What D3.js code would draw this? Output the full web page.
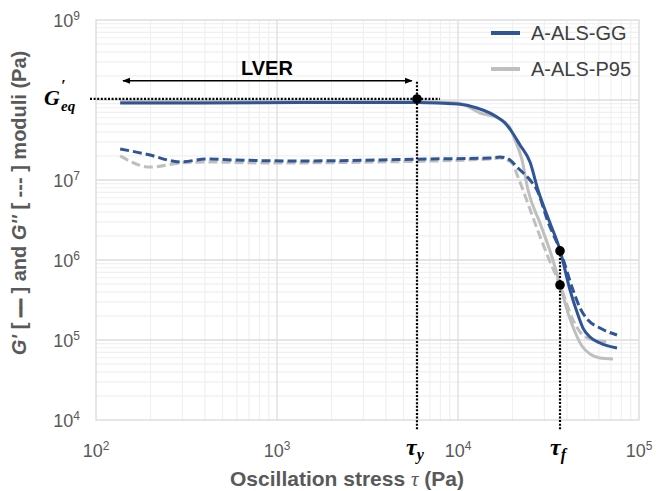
<!DOCTYPE html>
<html>
<head>
<meta charset="utf-8">
<script src="https://cdn.jsdelivr.net/npm/d3@7"></script>
<style>
  body { margin: 0; background: #fff; }
</style>
</head>
<body>
<div id="chart"></div>
<script>
/* data (Pa) */
var ggStorageX = [136, 375, 1340, 5935, 10000, 12735, 16430, 18180, 19880, 22000, 24990, 27670, 32240, 36610, 41570, 46030, 49050, 53620, 60870, 75600];
var ggStorageY = [9.17e7, 9.17e7, 9.31e7, 9.31e7, 8.91e7, 7.94e7, 6.13e7, 5.16e7, 3.98e7, 2.74e7, 1.68e7, 7.5e6, 2.9e6, 1.33e6, 4.22e5, 2.05e5, 1.41e5, 1.09e5, 9.17e4, 7.94e4];
var ggLossX = [136, 199, 263, 291, 411, 571, 1340, 3707, 6741, 15030, 17060, 19380, 21180, 24990, 27320, 31430, 36610, 43190, 47210, 52280, 60870, 75600];
var ggLossY = [2.44e7, 2.05e7, 1.73e7, 1.68e7, 1.83e7, 1.78e7, 1.73e7, 1.78e7, 1.83e7, 1.88e7, 1.94e7, 1.78e7, 1.45e7, 1.0e7, 7.5e6, 2.99e6, 1.33e6, 4.22e5, 2.51e5, 1.78e5, 1.41e5, 1.155e5];
var p95StorageX = [136, 5935, 10000, 13230, 17060, 19380, 20650, 22570, 24360, 28380, 33060, 36610, 40530, 44300, 48400, 53620, 60870, 71850];
var p95StorageY = [9.58e7, 9.58e7, 9.17e7, 6.88e7, 5.79e7, 4.47e7, 3.16e7, 1.78e7, 7.5e6, 2.9e6, 1.09e6, 4.87e5, 2.18e5, 1.26e5, 8.41e4, 6.68e4, 5.96e4, 5.79e4];
var p95LossX = [136, 199, 291, 411, 880, 3707, 15030, 17060, 19880, 21450, 22860, 26630, 31430, 36610, 43190, 47210, 53620, 60870, 69150];
var p95LossY = [2.0e7, 1.45e7, 1.63e7, 1.68e7, 1.63e7, 1.68e7, 1.83e7, 1.88e7, 1.63e7, 1.09e7, 7.5e6, 2.9e6, 1.09e6, 4.87e5, 1.78e5, 1.26e5, 1.03e5, 9.72e4, 9.44e4];

var seriesNames = ["A-ALS-GG", "A-ALS-P95"];
var xTickExps = [2, 3, 4, 5];
var yTickExps = [4, 5, 6, 7, 9];   // 10^8 is replaced by G'eq

var tauY = 5935, tauF = 36610, gEq = 1.03e8;
var crossGG = 1.30e6, crossP95 = 4.87e5;
var lverFrom = 141, lverTo = 5560, lverLevel = 1.74e8;

/* sizes */
var width = 656, height = 491;
var margin = { top: 20, left: 96, right: 17, bottom: 71 };
var blue = "#2F5597", grey = "#BFBFBF", labelColor = "#595959";
var sans = "'Liberation Sans', Arial, sans-serif",
    serif = "'Liberation Serif', 'DejaVu Serif', serif";

var svg = d3.select("#chart").append("svg")
    .attr("width", width)
    .attr("height", height);

var x = d3.scaleLog().domain([1e2, 1e5]).range([margin.left, width - margin.right]);
var y = d3.scaleLog().domain([1e4, 1e9]).range([height - margin.bottom, margin.top]);

/* gridlines */
var minorX = [], minorY = [];
for (var e = 2; e < 5; e++) for (var k = 2; k < 10; k++) minorX.push(k * Math.pow(10, e));
for (var e2 = 4; e2 < 9; e2++) for (var k2 = 2; k2 < 10; k2++) minorY.push(k2 * Math.pow(10, e2));

var grid = svg.append("g").attr("class", "grid");
grid.selectAll(".mx").data(minorX).enter().append("line")
    .attr("x1", d => x(d)).attr("x2", d => x(d))
    .attr("y1", margin.top).attr("y2", height - margin.bottom)
    .attr("stroke", "#F0F0F0").attr("stroke-width", 1.2);
grid.selectAll(".my").data(minorY).enter().append("line")
    .attr("y1", d => y(d)).attr("y2", d => y(d))
    .attr("x1", margin.left).attr("x2", width - margin.right)
    .attr("stroke", "#F0F0F0").attr("stroke-width", 1.2);
grid.selectAll(".Mx").data([1e3, 1e4]).enter().append("line")
    .attr("x1", d => x(d)).attr("x2", d => x(d))
    .attr("y1", margin.top).attr("y2", height - margin.bottom)
    .attr("stroke", "#DDDDDD").attr("stroke-width", 1.3);
grid.selectAll(".My").data([1e5, 1e6, 1e7, 1e8]).enter().append("line")
    .attr("y1", d => y(d)).attr("y2", d => y(d))
    .attr("x1", margin.left).attr("x2", width - margin.right)
    .attr("stroke", "#DDDDDD").attr("stroke-width", 1.3);
svg.append("rect")
    .attr("x", margin.left).attr("y", margin.top)
    .attr("width", width - margin.left - margin.right)
    .attr("height", height - margin.top - margin.bottom)
    .attr("fill", "none").attr("stroke", "#D9D9D9").attr("stroke-width", 1.3);

/* tick labels (10 with superscript) */
svg.selectAll(".xt").data(xTickExps).enter().append("text")
    .attr("x", d => x(Math.pow(10, d)))
    .attr("y", 457)
    .attr("text-anchor", "middle")
    .attr("font-family", sans).attr("font-size", 18).attr("fill", labelColor)
    .each(function(d) {
        d3.select(this).append("tspan").text("10");
        d3.select(this).append("tspan").attr("dy", -7).attr("font-size", 12).text(d);
    });
svg.selectAll(".yt").data(yTickExps).enter().append("text")
    .attr("x", 80)
    .attr("y", d => y(Math.pow(10, d)) + 7)
    .attr("text-anchor", "end")
    .attr("font-family", sans).attr("font-size", 18).attr("fill", labelColor)
    .each(function(d) {
        d3.select(this).append("tspan").text("10");
        d3.select(this).append("tspan").attr("dy", -7).attr("font-size", 12).text(d);
    });

/* axis titles */
svg.append("text")
    .attr("x", 347).attr("y", 486)
    .attr("text-anchor", "middle")
    .attr("font-family", sans).attr("font-size", 21).attr("font-weight", "bold").attr("fill", labelColor)
    .each(function() {
        var t = d3.select(this);
        t.append("tspan").text("Oscillation stress ");
        t.append("tspan").attr("font-family", serif).attr("font-style", "italic").attr("font-weight", "normal").text("τ");
        t.append("tspan").text(" (Pa)");
    });

svg.append("text")
    .attr("transform", "translate(26," + 203 + ") rotate(-90)")
    .attr("text-anchor", "middle")
    .attr("font-family", sans).attr("font-size", 20).attr("font-weight", "bold").attr("fill", labelColor)
    .each(function() {
        var t = d3.select(this);
        t.append("tspan").attr("font-style", "italic").text("G'");
        t.append("tspan").text(" [ ");
        t.append("tspan").attr("font-size", 15).text("━━");
        t.append("tspan").text(" ] and ");
        t.append("tspan").attr("font-style", "italic").text("G''");
        t.append("tspan").text(" [ ‐‐‐ ] moduli (Pa)");
    });

/* curves */
var line = d3.line()
    .x(d => x(d[0]))
    .y(d => y(d[1]))
    .curve(d3.curveMonotoneX);

function pairs(xs, ys) { return xs.map((v, i) => [v, ys[i]]); }

var curves = [
    { xs: p95LossX, ys: p95LossY, color: grey, dash: "9,4" },
    { xs: p95StorageX, ys: p95StorageY, color: grey, dash: null },
    { xs: ggLossX, ys: ggLossY, color: blue, dash: "9,4" },
    { xs: ggStorageX, ys: ggStorageY, color: blue, dash: null }
];

svg.selectAll(".curve").data(curves).enter().append("path")
    .attr("class", "curve")
    .attr("d", d => line(pairs(d.xs, d.ys)))
    .attr("fill", "none")
    .attr("stroke", d => d.color)
    .attr("stroke-width", 3)
    .attr("stroke-dasharray", d => d.dash);

/* dotted guide lines */
var dotted = svg.append("g")
    .attr("stroke", "#000").attr("stroke-width", 2.2).attr("stroke-dasharray", "2,1.6");
dotted.append("line")
    .attr("x1", 90).attr("x2", x(7955))
    .attr("y1", y(gEq)).attr("y2", y(gEq));
dotted.append("line")
    .attr("x1", x(tauY)).attr("x2", x(tauY))
    .attr("y1", y(lverLevel) + 1).attr("y2", 431);
dotted.append("line")
    .attr("x1", x(tauF)).attr("x2", x(tauF))
    .attr("y1", y(crossGG)).attr("y2", 431);

/* marker points */
svg.selectAll(".pt").data([[tauY, gEq], [tauF, crossGG], [tauF, crossP95]]).enter().append("circle")
    .attr("cx", d => x(d[0])).attr("cy", d => y(d[1]))
    .attr("r", 4.8).attr("fill", "#000");

/* LVER arrow */
svg.append("defs").append("marker")
    .attr("id", "head").attr("viewBox", "0 0 10 10")
    .attr("refX", 9).attr("refY", 5)
    .attr("markerWidth", 5).attr("markerHeight", 5)
    .attr("orient", "auto-start-reverse")
    .append("path").attr("d", "M0,1 L10,5 L0,9 Z").attr("fill", "#000");
svg.append("line")
    .attr("x1", x(lverFrom)).attr("x2", x(lverTo))
    .attr("y1", y(lverLevel)).attr("y2", y(lverLevel))
    .attr("stroke", "#000").attr("stroke-width", 1.6)
    .attr("marker-start", "url(#head)").attr("marker-end", "url(#head)");
svg.append("text")
    .attr("x", x(880)).attr("y", 75)
    .attr("text-anchor", "middle")
    .attr("font-family", sans).attr("font-size", 20).attr("font-weight", "bold").attr("fill", "#000")
    .text("LVER");

/* math labels */
var geq = svg.append("g")
    .attr("font-family", serif).attr("font-weight", "bold").attr("font-style", "italic");
geq.append("text").attr("x", 44).attr("y", 105).attr("font-size", 22).text("G");
geq.append("text").attr("x", 61).attr("y", 91).attr("font-size", 16).text("′");
geq.append("text").attr("x", 61).attr("y", 111).attr("font-size", 15).text("eq");

[[tauY, "y"], [tauF, "f"]].forEach(function(l) {
    svg.append("text")
        .attr("x", x(l[0]) - 2).attr("y", 455)
        .attr("text-anchor", "middle")
        .attr("font-family", serif).attr("font-size", 24).attr("font-weight", "bold").attr("font-style", "italic")
        .each(function() {
            var t = d3.select(this);
            t.append("tspan").text("τ");
            t.append("tspan").attr("dy", 5).attr("font-size", 16).text(l[1]);
        });
});

/* legend */
var legend = svg.selectAll(".legend").data(seriesNames).enter().append("g")
    .attr("transform", (d, i) => "translate(491," + (33 + i * 36) + ")");
legend.append("line")
    .attr("x1", 0).attr("x2", 29)
    .attr("stroke", (d, i) => i === 0 ? blue : grey)
    .attr("stroke-width", 4);
legend.append("text")
    .attr("x", 40).attr("y", 7)
    .attr("font-family", sans).attr("font-size", 20).attr("fill", "#404040")
    .text(d => d);
</script>
</body>
</html>
